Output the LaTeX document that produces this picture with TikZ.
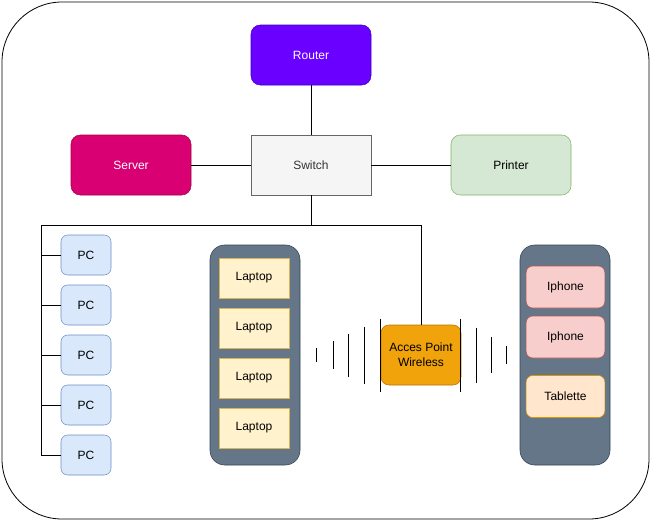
\documentclass[tikz,border=0pt]{standalone}
\usepackage{fontspec}
\setmainfont{Liberation Sans}
\usepackage{xcolor}
\usepackage{tikz}
\usetikzlibrary{positioning,calc}
\definecolor{routerFill}{HTML}{6A00FF}
\definecolor{routerLine}{HTML}{3700CC}
\definecolor{serverFill}{HTML}{D80073}
\definecolor{serverLine}{HTML}{A50040}
\definecolor{printerFill}{HTML}{D5E8D4}
\definecolor{printerLine}{HTML}{82B366}
\definecolor{pcFill}{HTML}{DAE8FC}
\definecolor{pcLine}{HTML}{6C8EBF}
\definecolor{boxFill}{HTML}{647687}
\definecolor{boxLine}{HTML}{314354}
\definecolor{lapFill}{HTML}{FFF2CC}
\definecolor{lapLine}{HTML}{D6B656}
\definecolor{apFill}{HTML}{F0A30A}
\definecolor{apLine}{HTML}{BD7000}
\definecolor{phoneFill}{HTML}{F8CECC}
\definecolor{phoneLine}{HTML}{B85450}
\definecolor{tabFill}{HTML}{FFE6CC}
\definecolor{tabLine}{HTML}{D79B00}

\begin{document}
\begin{tikzpicture}[x=0.75pt,y=-0.75pt,font=\fontsize{9}{11}\selectfont,
  dev/.style={draw,rounded corners=7pt,minimum width=90pt,minimum height=45pt,align=center},
  pcbox/.style={draw=pcLine,fill=pcFill,rounded corners=5pt,minimum width=37.5pt,minimum height=30pt},
  lapbox/.style={draw=lapLine,fill=lapFill,minimum width=52.5pt,minimum height=30pt},
  mobbox/.style={rounded corners=5pt,minimum width=59pt,minimum height=31.5pt},
  holder/.style={draw=boxLine,fill=boxFill,rounded corners=11pt,minimum width=67.5pt,minimum height=165pt},
  wire/.style={line width=0.6pt}]
\useasboundingbox (0,0) rectangle (651,521);
% --- frame ---
\draw[line width=0.6pt,rounded corners=45pt] (2,2) rectangle (649,519);
% --- core ---
\node[dev,draw=routerLine,fill=routerFill,text=white] (router) at (311,55) {Router};
\node[dev,draw=black!60,fill=black!4,text=black!80,rounded corners=0pt] (sw) at (311,165) {Switch};
\node[dev,draw=serverLine,fill=serverFill,text=white] (server) at (131,165) {Server};
\node[dev,draw=printerLine,fill=printerFill] (printer) at (511,165) {Printer};
\draw[wire] (router) -- (sw);
\draw[wire] (server) -- (sw);
\draw[wire] (sw) -- (printer);
% --- wired PCs ---
\foreach \i in {1,...,5}
  \node[pcbox] (pc\i) at (86,205+50*\i) {PC};
\coordinate (bus) at (41,225);
\draw[wire] (sw.south) |- (bus) |- (pc5.west);
\foreach \i in {1,...,4}
  \draw[wire] (pc\i.west) -- (pc\i.west -| bus);
% --- wireless ---
\node[holder] (lapset) at (255,355) {};
\foreach \i in {1,...,4}
  \node[lapbox] (lap\i) at (254,228+50*\i) {Laptop};
\node[holder] (mobset) at (565,355) {};
\node[mobbox,draw=phoneLine,fill=phoneFill] (phone1) at (565.5,287) {Iphone};
\node[mobbox,draw=phoneLine,fill=phoneFill] (phone2) at (565.5,337) {Iphone};
\node[mobbox,draw=tabLine,fill=tabFill] (tab) at (565.5,396.5) {Tablette};
\node[dev,draw=apLine,fill=apFill,minimum width=60pt,rounded corners=6pt] (ap) at (421,355) {Acces Point\\Wireless};
\draw[wire] (bus -| sw.south) -| (ap.north);
% signal
\foreach \x/\h in {316/7,333/14,348/21.5,364/28.5,380/36.5,460/36.5,476/27.5,491/18,506/9}
  \draw[line width=0.5pt] (\x,355-\h) -- (\x,355+\h);
\end{tikzpicture}
\end{document}
